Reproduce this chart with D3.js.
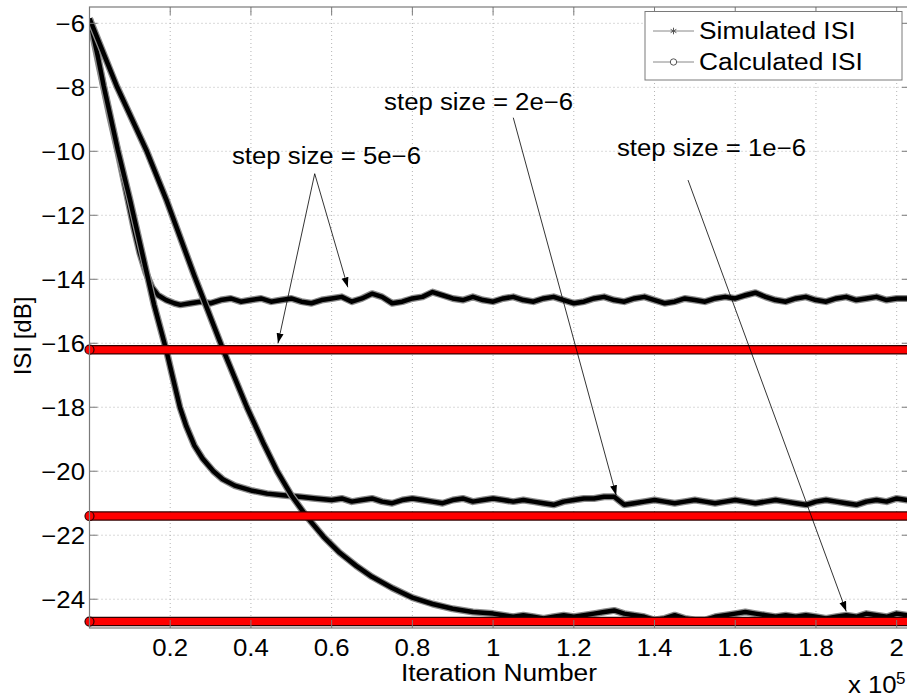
<!DOCTYPE html>
<html>
<head>
<meta charset="utf-8">
<script src="https://cdn.jsdelivr.net/npm/d3@7"></script>
<style>
  body { margin: 0; background: #fff; }
  text { font-family: "Liberation Sans", Arial, sans-serif; fill: #000; }
</style>
</head>
<body>
<div id="vis"></div>
<script>
// simulated ISI curves, [iteration (x1e5), ISI dB]
const sim5e6 = [[0,-5.85],[0.02,-7.1],[0.035,-8.0],[0.05,-8.9],[0.07,-10.0],[0.095,-11.5],[0.11,-12.4],[0.125,-13.2],[0.14,-13.8],[0.155,-14.25],[0.17,-14.5],[0.19,-14.65],[0.21,-14.75],[0.225,-14.8],[0.25,-14.75],[0.275,-14.7],[0.3,-14.75],[0.325,-14.65],[0.35,-14.6],[0.375,-14.7],[0.4,-14.65],[0.425,-14.6],[0.45,-14.7],[0.475,-14.65],[0.5,-14.6],[0.525,-14.7],[0.55,-14.75],[0.575,-14.65],[0.6,-14.6],[0.625,-14.55],[0.65,-14.7],[0.675,-14.6],[0.7,-14.45],[0.725,-14.55],[0.75,-14.75],[0.775,-14.7],[0.8,-14.6],[0.825,-14.55],[0.85,-14.4],[0.875,-14.5],[0.9,-14.6],[0.925,-14.65],[0.95,-14.55],[0.975,-14.65],[1.0,-14.7],[1.025,-14.6],[1.05,-14.55],[1.075,-14.65],[1.1,-14.7],[1.125,-14.6],[1.15,-14.55],[1.175,-14.65],[1.2,-14.75],[1.225,-14.7],[1.25,-14.6],[1.275,-14.55],[1.3,-14.65],[1.325,-14.7],[1.35,-14.6],[1.375,-14.55],[1.4,-14.65],[1.425,-14.75],[1.45,-14.7],[1.475,-14.6],[1.5,-14.65],[1.525,-14.7],[1.55,-14.6],[1.575,-14.55],[1.6,-14.6],[1.625,-14.5],[1.65,-14.42],[1.675,-14.55],[1.7,-14.65],[1.725,-14.7],[1.75,-14.6],[1.775,-14.55],[1.8,-14.65],[1.825,-14.7],[1.85,-14.6],[1.875,-14.55],[1.9,-14.65],[1.925,-14.6],[1.95,-14.55],[1.975,-14.65],[2.0,-14.6],[2.025,-14.6],[2.05,-14.6]];

const sim2e6 = [[0,-5.85],[0.02,-7.0],[0.035,-7.95],[0.05,-8.8],[0.07,-9.95],[0.1,-11.5],[0.12,-12.6],[0.14,-13.7],[0.16,-14.8],[0.175,-15.5],[0.19,-16.2],[0.205,-17.0],[0.224,-18.0],[0.24,-18.6],[0.26,-19.2],[0.28,-19.6],[0.307,-20.0],[0.33,-20.25],[0.36,-20.45],[0.4,-20.6],[0.44,-20.7],[0.48,-20.75],[0.52,-20.8],[0.56,-20.85],[0.6,-20.9],[0.625,-20.85],[0.65,-20.95],[0.675,-20.9],[0.7,-20.85],[0.725,-20.95],[0.75,-21.0],[0.775,-20.9],[0.8,-20.85],[0.825,-20.9],[0.85,-20.95],[0.875,-21.0],[0.9,-20.9],[0.925,-20.85],[0.95,-20.95],[0.975,-20.9],[1.0,-20.85],[1.025,-20.9],[1.05,-20.95],[1.075,-20.9],[1.1,-20.95],[1.125,-21.0],[1.15,-21.05],[1.175,-20.95],[1.2,-20.9],[1.225,-20.85],[1.25,-20.85],[1.275,-20.8],[1.3,-20.8],[1.325,-21.05],[1.35,-21.0],[1.375,-20.95],[1.4,-20.9],[1.425,-20.95],[1.45,-21.0],[1.475,-20.95],[1.5,-20.9],[1.525,-20.95],[1.55,-21.0],[1.575,-20.95],[1.6,-20.9],[1.625,-20.95],[1.65,-21.0],[1.675,-20.95],[1.7,-20.9],[1.725,-20.95],[1.75,-21.0],[1.775,-21.05],[1.8,-20.95],[1.825,-20.9],[1.85,-20.95],[1.875,-21.0],[1.9,-21.05],[1.925,-20.95],[1.95,-20.9],[1.975,-20.95],[2.0,-20.85],[2.025,-20.9],[2.05,-20.9]];

const sim1e6 = [[0,-5.85],[0.067,-7.95],[0.142,-10.0],[0.19,-11.5],[0.26,-13.9],[0.331,-16.2],[0.39,-18.0],[0.43,-19.1],[0.465,-20.0],[0.5,-20.75],[0.54,-21.45],[0.58,-22.05],[0.62,-22.55],[0.66,-22.95],[0.7,-23.3],[0.75,-23.65],[0.8,-23.95],[0.85,-24.15],[0.9,-24.3],[0.95,-24.4],[1.0,-24.45],[1.025,-24.5],[1.05,-24.55],[1.075,-24.5],[1.1,-24.55],[1.125,-24.6],[1.15,-24.55],[1.175,-24.5],[1.2,-24.55],[1.225,-24.5],[1.25,-24.45],[1.275,-24.4],[1.3,-24.35],[1.325,-24.45],[1.35,-24.5],[1.375,-24.55],[1.4,-24.65],[1.425,-24.6],[1.45,-24.5],[1.475,-24.6],[1.5,-24.65],[1.525,-24.65],[1.55,-24.55],[1.575,-24.5],[1.6,-24.45],[1.625,-24.4],[1.65,-24.45],[1.675,-24.5],[1.7,-24.55],[1.725,-24.5],[1.75,-24.55],[1.775,-24.5],[1.8,-24.55],[1.825,-24.6],[1.85,-24.55],[1.875,-24.5],[1.9,-24.55],[1.925,-24.45],[1.95,-24.5],[1.975,-24.55],[2.0,-24.45],[2.025,-24.5],[2.05,-24.5]];

// calculated ISI levels (dB)
const calcLevels = [-16.2, -21.4, -24.7];

const xTicks = [0.2, 0.4, 0.6, 0.8, 1, 1.2, 1.4, 1.6, 1.8, 2];
const yTicks = [-24, -22, -20, -18, -16, -14, -12, -10, -8, -6];

// annotations: text pos and arrows in data units
const notes = [
  { label: 'step size = 5e\u22126', x: 0.353, y: -10.4, from: [0.558, -10.7], to: [[0.467, -16.0], [0.64, -14.25]] },
  { label: 'step size = 2e\u22126', x: 0.73, y: -8.7, from: [1.05, -8.95], to: [[1.305, -20.75]] },
  { label: 'step size = 1e\u22126', x: 1.307, y: -10.15, from: [1.483, -10.9], to: [[1.875, -24.38]] }
];

const W = 907, H = 697;
const plot = { left: 89.5, right: 910, top: 7, bottom: 628 };
const stretchX = 1.12;

const svg = d3.select('#vis').append('svg')
  .attr('width', W).attr('height', H);

const x = d3.scaleLinear().domain([0, 2.033]).range([plot.left, plot.right]);
const y = d3.scaleLinear().domain([-24.9, -5.49]).range([plot.bottom, plot.top]);

const defs = svg.append('defs');
defs.append('clipPath').attr('id', 'clip')
  .append('rect')
  .attr('x', plot.left).attr('y', plot.top)
  .attr('width', plot.right - plot.left).attr('height', plot.bottom - plot.top);

defs.append('marker')
  .attr('id', 'arrow')
  .attr('viewBox', '0 0 10 10')
  .attr('refX', 10).attr('refY', 5)
  .attr('markerWidth', 10).attr('markerHeight', 10)
  .attr('markerUnits', 'userSpaceOnUse')
  .attr('orient', 'auto')
  .append('path')
  .attr('d', 'M0,1.5 L10,5 L0,8.5 Z')
  .attr('fill', '#000');

// grid
const grid = svg.append('g').attr('class', 'grid');
grid.selectAll('.gx').data(xTicks).join('line')
  .attr('x1', d => x(d)).attr('x2', d => x(d))
  .attr('y1', plot.top).attr('y2', plot.bottom)
  .attr('stroke', '#b4b4b4').attr('stroke-width', 1)
  .attr('stroke-dasharray', '1,3');
grid.selectAll('.gy').data(yTicks).join('line')
  .attr('x1', plot.left).attr('x2', plot.right)
  .attr('y1', d => y(d)).attr('y2', d => y(d))
  .attr('stroke', '#b4b4b4').attr('stroke-width', 1)
  .attr('stroke-dasharray', '1,3');

// simulated curves
const line = d3.line().x(d => x(d[0])).y(d => y(d[1]));
const simG = svg.append('g').attr('clip-path', 'url(#clip)');
[sim5e6, sim2e6, sim1e6].forEach(s => {
  simG.append('path').datum(s)
    .attr('d', line).attr('fill', 'none')
    .attr('stroke', '#8a8a8a').attr('stroke-width', 7)
    .attr('stroke-linejoin', 'round');
  simG.append('path').datum(s)
    .attr('d', line).attr('fill', 'none')
    .attr('stroke', '#000').attr('stroke-width', 4.5)
    .attr('stroke-linejoin', 'round');
});

// calculated ISI (red bands)
const calcG = svg.append('g');
calcLevels.forEach(v => {
  calcG.append('line')
    .attr('x1', x(0)).attr('x2', W + 10)
    .attr('y1', y(v)).attr('y2', y(v))
    .attr('stroke', '#300').attr('stroke-width', 9.5);
  calcG.append('line')
    .attr('x1', x(0)).attr('x2', W + 10)
    .attr('y1', y(v)).attr('y2', y(v))
    .attr('stroke', '#ff0000').attr('stroke-width', 7);
  calcG.append('circle')
    .attr('cx', x(0)).attr('cy', y(v)).attr('r', 4.5)
    .attr('fill', '#ff0000').attr('stroke', '#300').attr('stroke-width', 1.2);
});

// annotations
const noteG = svg.append('g');
notes.forEach(n => {
  n.to.forEach(t => {
    noteG.append('line')
      .attr('x1', x(n.from[0])).attr('y1', y(n.from[1]))
      .attr('x2', x(t[0])).attr('y2', y(t[1]))
      .attr('stroke', '#000').attr('stroke-width', 0.8)
      .attr('marker-end', 'url(#arrow)');
  });
  noteG.append('text')
    .attr('class', 'st')
    .attr('x', x(n.x)).attr('y', y(n.y))
    .style('font-size', '23px')
    .text(n.label);
});

// axes frame and ticks
const axisColor = '#7a7a7a';
const frame = svg.append('g');
frame.append('rect')
  .attr('x', plot.left).attr('y', plot.top)
  .attr('width', plot.right - plot.left).attr('height', plot.bottom - plot.top)
  .attr('fill', 'none').attr('stroke', axisColor).attr('stroke-width', 1.2);

const tick = 8;
frame.selectAll('.tb').data(xTicks).join('line')
  .attr('x1', d => x(d)).attr('x2', d => x(d))
  .attr('y1', plot.bottom).attr('y2', plot.bottom - tick)
  .attr('stroke', axisColor);
frame.selectAll('.tt').data(xTicks).join('line')
  .attr('x1', d => x(d)).attr('x2', d => x(d))
  .attr('y1', plot.top).attr('y2', plot.top + tick)
  .attr('stroke', axisColor);
frame.selectAll('.tl').data(yTicks).join('line')
  .attr('x1', plot.left).attr('x2', plot.left + tick)
  .attr('y1', d => y(d)).attr('y2', d => y(d))
  .attr('stroke', axisColor);
frame.selectAll('.tr').data(yTicks).join('line')
  .attr('x1', plot.right).attr('x2', plot.right - tick)
  .attr('y1', d => y(d)).attr('y2', d => y(d))
  .attr('stroke', axisColor);

const fmt = d3.format('');
svg.append('g').selectAll('text').data(xTicks).join('text')
  .attr('class', 'st')
  .attr('x', d => x(d)).attr('y', 655.5)
  .attr('text-anchor', 'middle')
  .style('font-size', '23px')
  .text(d => fmt(d));

svg.append('g').selectAll('text').data(yTicks).join('text')
  .attr('class', 'st')
  .attr('x', 85).attr('y', d => y(d) + 8.3)
  .attr('text-anchor', 'end')
  .style('font-size', '23px')
  .text(d => fmt(d));

// axis labels
svg.append('text')
  .attr('class', 'st')
  .attr('x', 499).attr('y', 681)
  .attr('text-anchor', 'middle')
  .style('font-size', '23.5px')
  .text('Iteration Number');

svg.append('text')
  .attr('transform', 'translate(31,336) rotate(-90)')
  .attr('text-anchor', 'middle')
  .style('font-size', '24px')
  .text('ISI [dB]');

svg.append('text')
  .attr('class', 'st')
  .attr('x', 848).attr('y', 693)
  .style('font-size', '23px')
  .text('x 10');
svg.append('text')
  .attr('x', 896).attr('y', 684)
  .style('font-size', '17px')
  .text('5');

// legend
const leg = svg.append('g');
leg.append('rect')
  .attr('x', 645).attr('y', 11.5)
  .attr('width', 257).attr('height', 68.5)
  .attr('fill', '#fff').attr('stroke', axisColor).attr('stroke-width', 1);
const legItems = [
  { label: 'Simulated ISI', y: 31, mark: 'star' },
  { label: 'Calculated ISI', y: 62, mark: 'circle' }
];
legItems.forEach(it => {
  leg.append('line')
    .attr('x1', 653).attr('x2', 694)
    .attr('y1', it.y).attr('y2', it.y)
    .attr('stroke', '#888').attr('stroke-width', 1);
  if (it.mark === 'star') {
    leg.append('path')
      .attr('d', d3.symbol(d3.symbolAsterisk, 30)())
      .attr('transform', `translate(673.5,${it.y})`)
      .attr('fill', 'none').attr('stroke', '#555').attr('stroke-width', 1);
  } else {
    leg.append('circle')
      .attr('cx', 673.5).attr('cy', it.y).attr('r', 3.2)
      .attr('fill', '#fff').attr('stroke', '#555').attr('stroke-width', 1);
  }
  leg.append('text')
    .attr('class', 'st')
    .attr('x', 699).attr('y', it.y + 7.8)
    .style('font-size', '23.5px')
    .text(it.label);
});

// widen glyphs a bit, the source figure was stretched horizontally
svg.selectAll('text.st').each(function() {
  const len = this.getComputedTextLength();
  d3.select(this)
    .attr('textLength', len * stretchX)
    .attr('lengthAdjust', 'spacingAndGlyphs');
});
</script>
</body>
</html>
